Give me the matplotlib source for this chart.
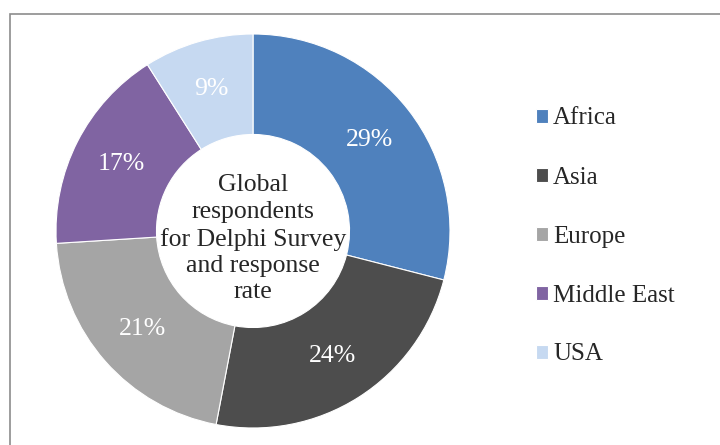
import matplotlib
matplotlib.use("Agg")
import matplotlib.pyplot as plt
from matplotlib.patches import Rectangle

regions = ['Africa', 'Asia', 'Europe', 'Middle East', 'USA']
shares = [29, 24, 21, 17, 9]
colors = ['#4F81BD', '#4D4D4D', '#A5A5A5', '#8064A2', '#C6D9F1']
center_text = 'Global\nrespondents\nfor Delphi Survey\nand response\nrate'

plt.rcParams['font.family'] = ['Liberation Serif', 'DejaVu Serif']

fig = plt.figure(figsize=(7.2, 4.45), dpi=100)
fig.patch.set_facecolor('white')

# outer frame (runs off the right and bottom edges like the source)
fig.patches.append(Rectangle((10 / 720, -0.05), 1.2, 1 - 14 / 445 + 0.05,
                             transform=fig.transFigure, fill=False,
                             edgecolor='#8c8c8c', linewidth=1.2))

# donut centre at (253, 231) px, radius ~197 px
ax = fig.add_axes([(253 - 197) / 720, (445 - 231 - 197) / 445, 394 / 720, 394 / 445])
wedges, texts, autotexts = ax.pie(
    shares, colors=colors, startangle=90, counterclock=False,
    autopct='%1.0f%%', pctdistance=0.75,
    wedgeprops=dict(width=0.51, edgecolor='white', linewidth=0.8),
    textprops=dict(color='white', fontsize=18.5))
ax.set_aspect('equal')
ax.set_xlim(-1, 1)
ax.set_ylim(-1, 1)

ax.text(0, -0.04, center_text, ha='center', va='center', fontsize=18.5,
        color='#262626', linespacing=1.26)

leg = fig.legend(wedges, regions, loc='upper left',
                 bbox_to_anchor=(523 / 720, 1 - 95 / 445),
                 frameon=False, fontsize=18, handlelength=0.5, handleheight=0.5,
                 handletextpad=0.2, labelspacing=1.48, borderpad=0)
for t in leg.get_texts():
    t.set_color('#262626')

fig.savefig('out.png', dpi=100)
